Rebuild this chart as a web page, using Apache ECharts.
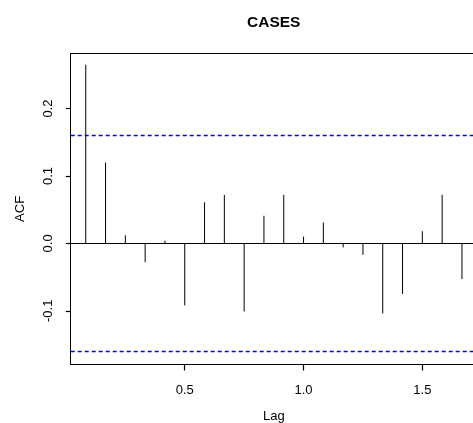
<!DOCTYPE html>
<html>
<head>
<meta charset="utf-8">
<script src="https://cdn.jsdelivr.net/npm/echarts@6/dist/echarts.min.js"></script>
<style>
  html, body { margin: 0; padding: 0; background: #fff; }
  #chart { width: 473px; height: 423px; }
</style>
</head>
<body>
<div id="chart"></div>
<script>
// lags (years) and autocorrelations
var lags = [0.0833, 0.1667, 0.25, 0.3333, 0.4167, 0.5, 0.5833, 0.6667, 0.75, 0.8333,
            0.9167, 1.0, 1.0833, 1.1667, 1.25, 1.3333, 1.4167, 1.5, 1.5833, 1.6667];
var acfValues = [0.265, 0.120, 0.012, -0.028, 0.004, -0.092, 0.061, 0.072, -0.101, 0.041,
                 0.072, 0.010, 0.031, -0.006, -0.017, -0.104, -0.075, 0.018, 0.072, -0.053];
var clim = 0.162;
var xTicks = [0.5, 1.0, 1.5];
var yTicks = [-0.1, 0.0, 0.1, 0.2];

var font = "'Liberation Sans', Arial, sans-serif";

var points = [];
for (var i = 0; i < lags.length; i++) {
    points.push([lags[i], acfValues[i]]);
}

var chart = echarts.init(document.getElementById('chart'));
var option = {
    animation: false,
    title: {
        text: 'CASES',
        left: 247,
        top: 15,
        padding: 0,
        textStyle: { fontFamily: font, fontSize: 15.5, fontWeight: 'bold', color: '#000' }
    },
    grid: {
        left: 70.7,
        top: 53.3,
        right: -4,
        bottom: 58.5,
        outerBoundsMode: 'none'
    },
    xAxis: [{
        type: 'value',
        min: 0.02,
        max: 1.73,
        name: 'Lag',
        nameLocation: 'middle',
        nameGap: 45,
        nameTextStyle: { fontFamily: font, fontSize: 13, color: '#000' },
        axisLine: { show: true, onZero: false, lineStyle: { color: '#000', width: 1 } },
        splitLine: { show: false },
        axisTick: { show: true, length: 6, customValues: xTicks, lineStyle: { color: '#000', width: 1.2 } },
        axisLabel: {
            customValues: xTicks,
            margin: 19,
            fontFamily: font, fontSize: 13, color: '#000',
            formatter: function (v) { return v.toFixed(1); }
        }
    }, {
        type: 'value',
        position: 'top',
        min: 0.02,
        max: 1.73,
        axisLine: { show: true, onZero: false, lineStyle: { color: '#000', width: 1 } },
        splitLine: { show: false },
        axisTick: { show: false },
        axisLabel: { show: false }
    }],
    yAxis: {
        type: 'value',
        min: -0.1797,
        max: 0.282,
        name: 'ACF',
        nameLocation: 'middle',
        nameRotate: 90,
        nameGap: 44,
        nameTextStyle: { fontFamily: font, fontSize: 13, color: '#000' },
        axisLine: { show: true, onZero: false, lineStyle: { color: '#000', width: 1 } },
        splitLine: { show: false },
        axisTick: { show: true, length: 5, customValues: yTicks, lineStyle: { color: '#000', width: 1.2 } },
        axisLabel: {
            customValues: yTicks,
            rotate: 90,
            margin: 16,
            fontFamily: font, fontSize: 13, color: '#000',
            formatter: function (v) { return v.toFixed(1); }
        }
    },
    series: [
        {
            type: 'custom',
            silent: true,
            data: points,
            renderItem: function (params, api) {
                var p0 = api.coord([api.value(0), 0]);
                var p1 = api.coord([api.value(0), api.value(1)]);
                return {
                    type: 'line',
                    shape: { x1: p0[0], y1: p0[1], x2: p1[0], y2: p1[1] },
                    style: { stroke: '#000', lineWidth: 1 }
                };
            }
        },
        {
            type: 'line',
            data: [],
            silent: true,
            markLine: {
                silent: true,
                symbol: 'none',
                label: { show: false },
                lineStyle: { color: '#0000ff', type: [4, 3], width: 1.4 },
                data: [{ yAxis: clim }, { yAxis: -clim }]
            }
        },
        {
            type: 'line',
            data: [],
            silent: true,
            markLine: {
                silent: true,
                symbol: 'none',
                label: { show: false },
                lineStyle: { color: '#000', type: 'solid', width: 1 },
                data: [{ yAxis: 0 }]
            }
        }
    ]
};
chart.setOption(option);
</script>
</body>
</html>
